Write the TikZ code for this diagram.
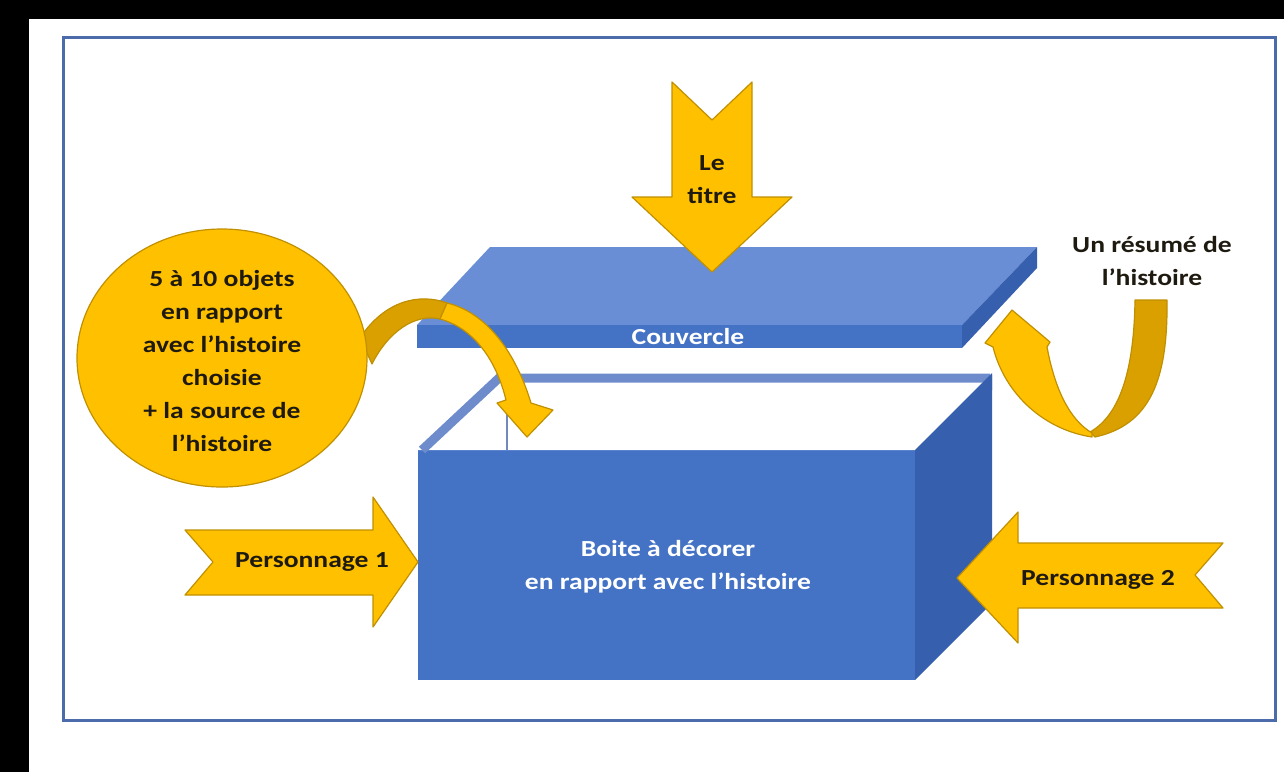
\documentclass[tikz,border=0pt]{standalone}
\usepackage{fontspec}
\setmainfont{Carlito}[FakeStretch=1.2]
\definecolor{gold}{HTML}{FFC000}
\definecolor{goldline}{HTML}{C09000}
\definecolor{golddark}{HTML}{D9A000}
\definecolor{boxblue}{HTML}{4472C4}
\definecolor{boxsidecol}{HTML}{3660AE}
\definecolor{lidtopcol}{HTML}{6A8ED6}
\definecolor{rimcol}{HTML}{6E8CCB}
\definecolor{framecol}{HTML}{4B6BAA}
\definecolor{ink}{HTML}{1E1A10}
\tikzset{
  lbl/.style={font=\fontsize{23}{33}\selectfont\bfseries, text=ink, align=center, inner sep=0pt},
  wlbl/.style={lbl, text=white},
  yarrow/.style={fill=gold, draw=goldline, line width=1.2pt, line join=round},
  ydark/.style={fill=golddark, draw=goldline, line width=1.2pt, line join=round},
  framebox/.style={draw=framecol, line width=3pt},
}
\begin{document}
\begin{tikzpicture}[x=1pt,y=-1pt]
\fill[black] (0,0) rectangle (1284,772);
\fill[white] (29,19) rectangle (1284,772);
\useasboundingbox (0,0) rectangle (1284,772);
\draw[framebox] (63,37) rectangle (1275,720);

% box
\fill[boxblue] (418,450) rectangle (915,680);
\fill[boxsidecol] (915,450) -- (992,375) -- (992,603) -- (915,680) -- cycle;
\fill[white] (418,450) -- (497,375) -- (992,375) -- (915,450) -- cycle;
\draw[rimcol, line width=9pt] (422,450) -- (499,378) -- (990,378);
\draw[rimcol!80!gray, line width=1.5pt] (507,382) -- (507,450);
\fill[boxsidecol] (915,450) -- (992,373) -- (992,390) -- (930,450) -- cycle;
\node[wlbl] (boxlabel) at (668,567) {Boite à décorer\\en rapport avec l'histoire};

% lid
\fill[lidtopcol] (490,247) -- (1037,247) -- (962,325) -- (417,325) -- cycle;
\fill[boxblue] (417,325) rectangle (962,348);
\fill[boxsidecol] (962,325) -- (1037,247) -- (1037,268) -- (962,348) -- cycle;
\node[wlbl] (lidlabel) at (688,337) {Couvercle};

% top arrow
\filldraw[yarrow] (672,82) -- (712,120) -- (752,82) -- (752,197) -- (792,197) -- (712,272) -- (632,197) -- (672,197) -- cycle;
\node[lbl] (titre) at (712,180) {Le\\titre};

% personnage 1
\filldraw[yarrow] (185,530) -- (373,530) -- (373,497) -- (418,562) -- (373,627) -- (373,595) -- (185,595) -- (213,562) -- cycle;
\node[lbl] (perso1) at (312,562) {Personnage 1};

% personnage 2
\filldraw[yarrow] (1223,543) -- (1018,543) -- (1018,512) -- (957,578) -- (1018,643) -- (1018,608) -- (1223,608) -- (1195,575) -- cycle;
\node[lbl] (perso2) at (1098,580) {Personnage 2};

% left curved arrow
\filldraw[ydark] (360,338) .. controls (385,300) and (420,293) .. (447,303) -- (440,319) .. controls (415,313) and (388,332) .. (372,364) -- cycle;
\filldraw[yarrow] (447,303) .. controls (485,312) and (515,350) .. (531,403) -- (553,410) -- (527,437) -- (497,403) -- (506,400) .. controls (495,355) and (470,327) .. (440,319) -- cycle;

% objects circle
\filldraw[fill=gold, draw=goldline, line width=1.2pt] (222,358) ellipse [x radius=145pt, y radius=129pt];
\node[lbl] (objets) at (222,361) {5 à 10 objets\\en rapport\\avec l'histoire\\choisie\\+ la source de\\l'histoire};

% right curved arrow
\filldraw[ydark] (1135,300) -- (1167,300) .. controls (1168,380) and (1150,425) .. (1095,437) -- (1090,432) .. controls (1120,415) and (1134,370) .. (1135,300) -- cycle;
\filldraw[yarrow] (1092,437) .. controls (1045,430) and (1005,395) .. (993,347) -- (985,343) -- (1012,310) -- (1050,342) -- (1047,347) .. controls (1055,390) and (1070,420) .. (1092,433) -- cycle;
\node[lbl] (resume) at (1152,261) {Un résumé de\\l'histoire};
\end{tikzpicture}
\end{document}
